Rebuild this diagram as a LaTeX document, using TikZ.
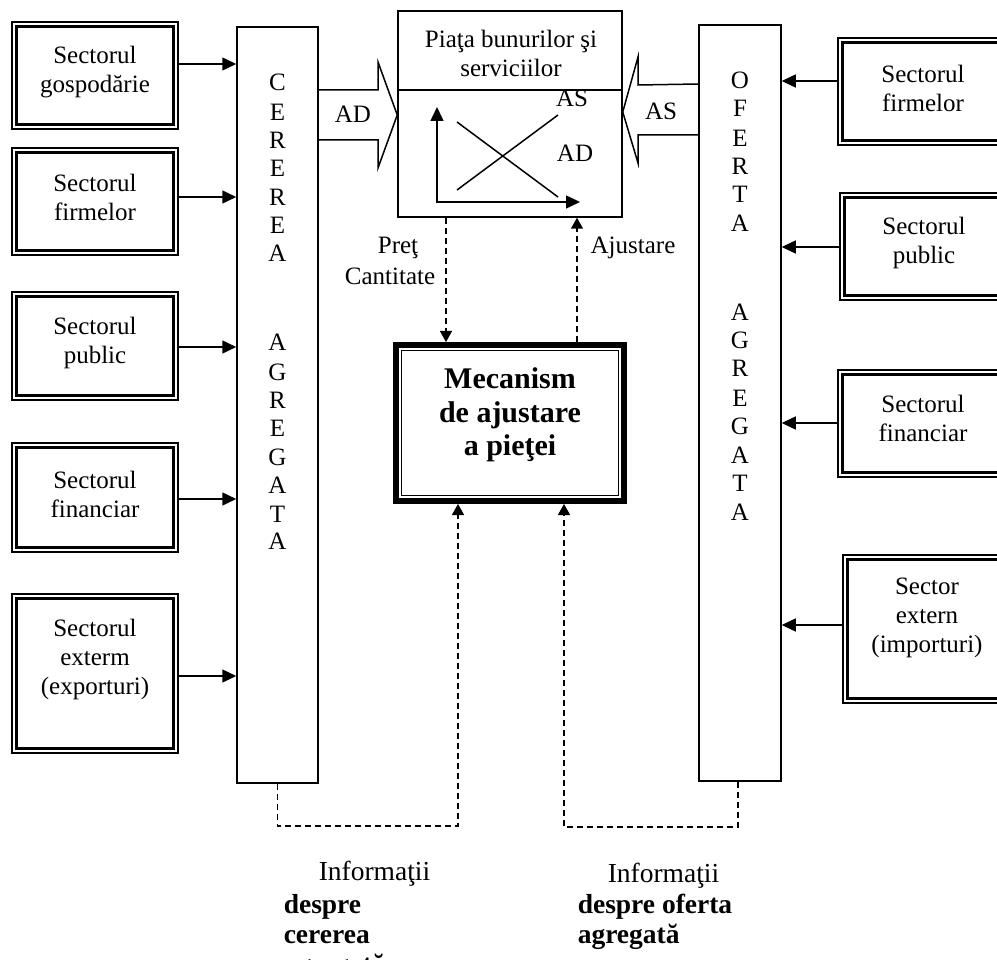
\documentclass[tikz,border=0pt]{standalone}
\usepackage{fontspec}
\setmainfont{Liberation Serif}
\usetikzlibrary{arrows.meta}
\newcommand\szN{\fontsize{25}{29}\selectfont}
\newcommand\szM{\fontsize{30}{33.5}\selectfont}
\newcommand\szB{\fontsize{27.5}{30}\selectfont}
\begin{document}
\begin{tikzpicture}[x=1pt,y=-1pt,line width=1.5pt,
  sector/.style={draw, line width=1.6pt, inner sep=0pt,
    path picture={\draw[line width=2.8pt]
      ([shift={(4.3pt,-4.3pt)}]path picture bounding box.north west) rectangle
      ([shift={(-4.3pt,4.3pt)}]path picture bounding box.south east);}},
  mecbox/.style={draw, line width=6pt, inner sep=0pt,
    path picture={\draw[line width=1.3pt]
      ([shift={(5.7pt,-5.7pt)}]path picture bounding box.north west) rectangle
      ([shift={(-5.7pt,5.7pt)}]path picture bounding box.south east);}},
  colbox/.style={draw, inner sep=0pt},
  txt/.style={inner sep=0pt, align=center, font=\szN},
  arr/.style={-{Triangle[length=14pt,width=13pt]}},
  darr/.style={dash pattern=on 6pt off 4pt, -{Triangle[length=11pt,width=12pt]}},
  blk/.style={draw, line join=miter}
]
\fill[white] (0,0) rectangle (997,960);
\useasboundingbox (0,0) rectangle (997,960);
\clip (0,0) rectangle (997,960);

% left sector boxes
\node[sector, minimum width=166pt, minimum height=107pt] (s1) at (95,75.5) {};
\node[sector, minimum width=166pt, minimum height=107pt] (s2) at (95,201.5) {};
\node[sector, minimum width=166pt, minimum height=108pt] (s3) at (95,346) {};
\node[sector, minimum width=166pt, minimum height=109pt] (s4) at (95,497.5) {};
\node[sector, minimum width=166pt, minimum height=159pt] (s5) at (95,673.5) {};
\node[txt] (t1) at (95,72) {Sectorul\\gospodărie};
\node[txt] (t2) at (95,197.5) {Sectorul\\firmelor};
\node[txt] (t3) at (95,342.5) {Sectorul\\public};
\node[txt] (t4) at (95,494.5) {Sectorul\\financiar};
\node[txt] (t5) at (95,659) {Sectorul\\exterm\\(exporturi)};

% right sector boxes
\node[sector, minimum width=170pt, minimum height=107pt] (r1) at (923,91.5) {};
\node[sector, minimum width=170pt, minimum height=107pt] (r2) at (925,246.5) {};
\node[sector, minimum width=170pt, minimum height=107pt] (r3) at (923,423.5) {};
\node[sector, minimum width=170pt, minimum height=148pt] (r4) at (928,629) {};
\node[txt] (u1) at (923,88) {Sectorul\\firmelor};
\node[txt] (u2) at (924,242.5) {Sectorul\\public};
\node[txt] (u3) at (923,418.5) {Sectorul\\financiar};
\node[txt] (u4) at (927,618) {Sector\\extern\\(importuri)};

% aggregate columns
\node[colbox, minimum width=81pt, minimum height=756pt] (cer) at (277.5,405) {};
\node[colbox, minimum width=82pt, minimum height=756pt] (ofe) at (740,403) {};
\foreach \l/\y [count=\i] in {C/82,E/112,R/140,E/168,R/197,E/225,A/253,
    A/342,G/372,R/400,E/428,G/457,A/485,T/514,A/541}
  \node[txt] (cl\i) at (277.5,\y) {\l};
\foreach \l/\y [count=\i] in {O/80,F/108,E/138,R/166,T/194,A/223,
    A/312,G/340,R/368,E/398,G/426,A/455,T/483,A/512}
  \node[txt] (ol\i) at (740,\y) {\l};

% sector arrows
\draw[arr] (s1.east |- 0,64) -- (cer.west |- 0,64);
\draw[arr] (s2.east |- 0,197) -- (cer.west |- 0,197);
\draw[arr] (s3.east |- 0,347) -- (cer.west |- 0,347);
\draw[arr] (s4.east |- 0,499) -- (cer.west |- 0,499);
\draw[arr] (s5.east |- 0,676) -- (cer.west |- 0,676);
\draw[arr] (r1.west |- 0,81) -- (ofe.east |- 0,81);
\draw[arr] (r2.west |- 0,247) -- (ofe.east |- 0,247);
\draw[arr] (r3.west |- 0,423) -- (ofe.east |- 0,423);
\draw[arr] (r4.west |- 0,625) -- (ofe.east |- 0,625);

% market box
\node[colbox, minimum width=224pt, minimum height=206pt] (mk) at (510,114) {};
\draw (mk.west |- 0,90) -- (mk.east |- 0,90);
\node[txt] (mkt) at (511,53) {Piaţa bunurilor şi\\serviciilor};
\coordinate (o) at (437,202);
\draw[{Triangle[length=14pt,width=13pt]}-{Triangle[length=14pt,width=13pt]}, line join=miter]
  (o |- 0,107) -- (o) -- (o -| 580,0);
\draw (457,122) -- (558,197);
\draw (457,190) -- (558,115);
\node[txt] (las) at (572,98) {AS};
\node[txt] (lad) at (575,153) {AD};

% block arrows
\draw[blk] (cer.east |- 0,90) -- (378,90) -- (378,62) -- (mk.west |- 0,115)
  -- (378,168) -- (378,140) -- (cer.east |- 0,140);
\node[txt] (ad) at (353,114) {AD};
\draw[blk] (ofe.west |- 0,84) -- (638,85) -- (638,57) -- (mk.east |- 0,112)
  -- (638,163) -- (638,135) -- (ofe.west |- 0,135);
\node[txt] (as) at (661,111) {AS};

% mechanism
\node[mecbox, minimum width=228pt, minimum height=156pt] (mec) at (510,423) {};
\node[txt, font=\szM\bfseries] (mect) at (510,415) {Mecanism\\de ajustare\\a pieţei};

\draw[darr] (mk.south -| 446,0) -- (mec.north -| 446,0);
\draw[darr] (mec.north -| 577,0) -- (mk.south -| 577,0);
\node[txt] (pret) at (398,248) {Preţ};
\node[txt] (cant) at (390,276) {Cantitate};
\node[txt] (ajs) at (633,248) {Ajustare};

\draw[darr] (cer.south) -- (cer.south |- 0,826) -| (mec.south -| 458,0);
\draw[darr] ([xshift=-2pt]ofe.south) -- ([xshift=-2pt]ofe.south |- 0,827) -| (mec.south -| 564,0);

% bottom texts
\node[txt, font=\szB, anchor=west] (i1) at (318,874) {Informaţii};
\node[txt, font=\szB\bfseries, anchor=west] (i2) at (283,907) {despre};
\node[txt, font=\szB\bfseries, anchor=west] (i3) at (283,937) {cererea};
\node[txt, font=\szB\bfseries, anchor=west] (i4) at (283,967) {agregată};
\node[txt, font=\szB, anchor=west] (j1) at (607,876) {Informaţii};
\node[txt, font=\szB\bfseries, anchor=west] (j2) at (577,907) {despre oferta};
\node[txt, font=\szB\bfseries, anchor=west] (j3) at (577,937) {agregată};
\end{tikzpicture}
\end{document}
